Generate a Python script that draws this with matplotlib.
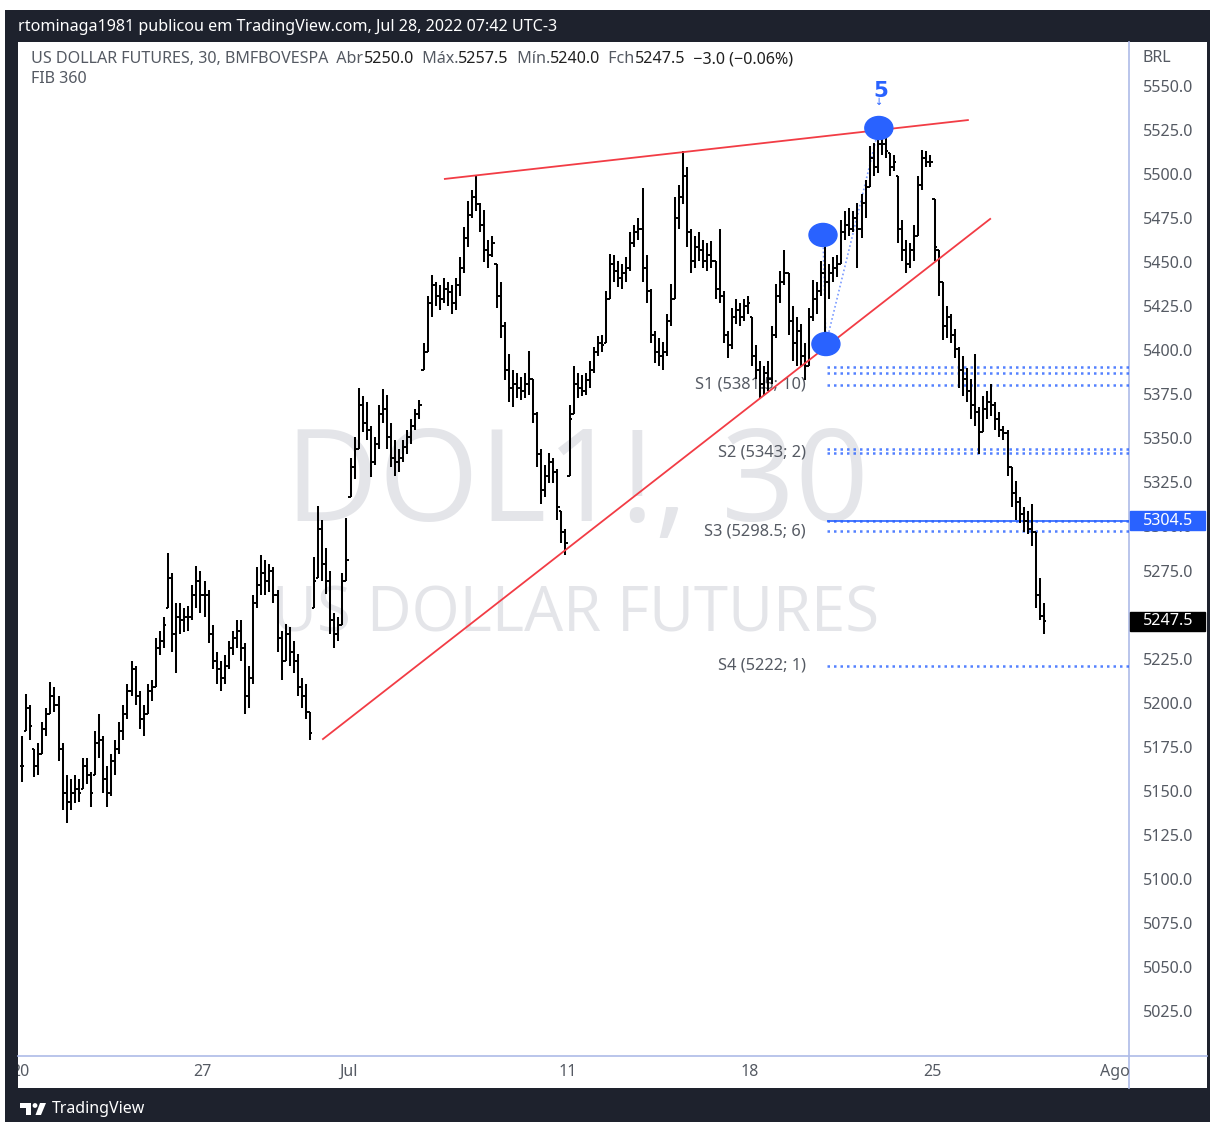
import numpy as np
import matplotlib
matplotlib.use("Agg")
import matplotlib.pyplot as plt
from matplotlib.patches import Rectangle, Ellipse, Polygon, Circle

plt.rcParams["font.family"] = ["Noto Sans", "DejaVu Sans"]

# ---------------- data ----------------
BARS_PER_DAY = 9  # hourly bars per trading day

highs = [
    5182, 5206, 5200, 5175, 5178, 5190, 5198, 5213, 5210,   # Jun 20
    5205, 5178, 5160, 5158, 5160, 5158, 5170, 5170, 5162,   # Jun 21
    5185, 5195, 5182, 5165, 5172, 5180, 5190, 5200, 5212,   # Jun 22
    5225, 5222, 5208, 5200, 5212, 5214, 5238, 5242, 5250,   # Jun 23
    5286, 5275, 5258, 5258, 5255, 5256, 5268, 5279, 5276,   # Jun 24
    5270, 5265, 5245, 5230, 5225, 5228, 5236, 5242, 5248,   # Jun 27
    5248, 5235, 5222, 5262, 5278, 5285, 5282, 5280, 5278,   # Jun 28
    5265, 5242, 5246, 5244, 5236, 5229, 5215, 5212, 5196,   # Jun 29
    5284, 5313, 5305, 5289, 5276, 5252, 5250, 5275, 5306,   # Jun 30
    5340, 5352, 5380, 5375, 5372, 5358, 5352, 5370, 5379,   # Jul 1
    5376, 5360, 5350, 5345, 5350, 5356, 5362, 5368, 5373,   # Jul 4
    5405, 5432, 5444, 5440, 5438, 5442, 5440, 5438, 5442,   # Jul 5
    5454, 5471, 5486, 5492, 5500, 5485, 5481, 5464, 5466,   # Jul 6
    5450, 5440, 5417, 5399, 5390, 5388, 5386, 5388, 5401,   # Jul 7
    5385, 5366, 5345, 5336, 5343, 5340, 5334, 5310, 5300,   # Jul 8
    5370, 5392, 5388, 5387, 5388, 5395, 5403, 5409, 5410,   # Jul 11
    5435, 5456, 5455, 5452, 5450, 5454, 5468, 5472, 5476,   # Jul 12
    5493, 5455, 5436, 5412, 5408, 5406, 5422, 5439, 5488,   # Jul 13
    5495, 5514, 5505, 5470, 5466, 5468, 5464, 5462, 5463,   # Jul 14
    5452, 5470, 5435, 5412, 5425, 5430, 5428, 5430, 5432,   # Jul 15
    5420, 5404, 5395, 5392, 5395, 5415, 5439, 5446, 5458,   # Jul 18
    5445, 5426, 5420, 5416, 5405, 5425, 5441, 5440, 5452,   # Jul 19
    5467, 5450, 5454, 5455, 5475, 5480, 5482, 5480, 5485,   # Jul 20
    5490, 5498, 5517, 5519, 5522, 5527, 5523, 5513, 5512,   # Jul 21
    5500, 5475, 5464, 5462, 5472, 5500, 5515, 5514, 5512,   # Jul 22
    5487, 5458, 5440, 5426, 5422, 5413, 5403, 5398, 5391,   # Jul 25
    5385, 5399, 5369, 5375, 5378, 5382, 5372, 5366, 5358,   # Jul 26
    5356, 5335, 5327, 5318, 5312, 5310, 5314, 5298, 5272,   # Jul 27
    5257.5,                                                 # Jul 28
]
lows = [
    5156, 5185, 5180, 5159, 5160, 5172, 5182, 5195, 5196,
    5168, 5140, 5133, 5140, 5144, 5145, 5152, 5155, 5142,
    5160, 5170, 5150, 5142, 5148, 5160, 5172, 5180, 5192,
    5205, 5200, 5186, 5182, 5195, 5202, 5210, 5228, 5232,
    5255, 5230, 5218, 5240, 5241, 5242, 5248, 5255, 5252,
    5250, 5235, 5220, 5212, 5208, 5212, 5220, 5228, 5232,
    5225, 5195, 5198, 5212, 5255, 5262, 5262, 5264, 5258,
    5230, 5214, 5225, 5222, 5218, 5205, 5198, 5192, 5180,
    5255, 5272, 5270, 5263, 5240, 5232, 5236, 5245, 5270,
    5318, 5328, 5345, 5355, 5350, 5329, 5336, 5345, 5360,
    5345, 5335, 5330, 5332, 5338, 5342, 5348, 5356, 5362,
    5390, 5400, 5420, 5426, 5424, 5428, 5426, 5422, 5424,
    5432, 5445, 5460, 5476, 5480, 5468, 5451, 5448, 5454,
    5425, 5408, 5384, 5372, 5369, 5374, 5373, 5374, 5376,
    5360, 5335, 5314, 5318, 5326, 5326, 5305, 5292, 5285,
    5330, 5365, 5374, 5375, 5376, 5380, 5388, 5398, 5400,
    5405, 5430, 5440, 5437, 5436, 5440, 5446, 5460, 5464,
    5440, 5428, 5405, 5394, 5392, 5390, 5398, 5415, 5430,
    5470, 5484, 5460, 5445, 5448, 5452, 5448, 5446, 5448,
    5430, 5428, 5405, 5397, 5402, 5416, 5415, 5418, 5422,
    5392, 5385, 5374, 5376, 5378, 5382, 5408, 5428, 5438,
    5410, 5395, 5392, 5392, 5384, 5392, 5418, 5422, 5432,
    5405, 5430, 5440, 5443, 5450, 5464, 5466, 5468, 5448,
    5465, 5476, 5494, 5500, 5502, 5512, 5510, 5500, 5503,
    5462, 5452, 5445, 5448, 5452, 5466, 5492, 5505, 5505,
    5452, 5432, 5407, 5408, 5405, 5397, 5380, 5375, 5372,
    5362, 5358, 5342, 5355, 5362, 5364, 5356, 5352, 5350,
    5330, 5312, 5305, 5303, 5298, 5297, 5290, 5255, 5248,
    5240,
]
closes = [
    5165, 5198, 5188, 5165, 5172, 5186, 5195, 5205, 5200,
    5175, 5150, 5145, 5150, 5152, 5150, 5165, 5160, 5150,
    5178, 5180, 5158, 5150, 5168, 5175, 5185, 5195, 5208,
    5220, 5205, 5192, 5195, 5208, 5210, 5232, 5236, 5245,
    5272, 5240, 5250, 5248, 5250, 5250, 5262, 5270, 5262,
    5262, 5240, 5225, 5220, 5215, 5222, 5232, 5238, 5242,
    5232, 5205, 5215, 5258, 5268, 5275, 5270, 5276, 5262,
    5238, 5225, 5240, 5230, 5225, 5210, 5205, 5196, 5184,
    5270, 5300, 5280, 5270, 5248, 5240, 5245, 5270, 5282,
    5335, 5345, 5370, 5360, 5356, 5338, 5348, 5365, 5368,
    5352, 5340, 5338, 5340, 5346, 5352, 5358, 5365, 5370,
    5400, 5428, 5438, 5432, 5430, 5436, 5434, 5428, 5438,
    5448, 5465, 5478, 5488, 5484, 5472, 5458, 5455, 5462,
    5432, 5415, 5390, 5380, 5382, 5380, 5378, 5382, 5385,
    5365, 5342, 5322, 5330, 5338, 5332, 5312, 5298, 5292,
    5362, 5382, 5380, 5378, 5384, 5390, 5400, 5405, 5404,
    5430, 5450, 5446, 5442, 5445, 5448, 5462, 5468, 5470,
    5448, 5435, 5410, 5400, 5398, 5400, 5418, 5430, 5476,
    5488, 5500, 5468, 5452, 5460, 5458, 5452, 5455, 5452,
    5436, 5432, 5410, 5404, 5420, 5424, 5420, 5426, 5428,
    5398, 5390, 5382, 5388, 5385, 5410, 5432, 5440, 5445,
    5418, 5405, 5412, 5398, 5392, 5420, 5430, 5435, 5445,
    5440, 5445, 5448, 5450, 5468, 5472, 5470, 5476, 5470,
    5485, 5494, 5510, 5505, 5518, 5518, 5514, 5505, 5508,
    5470, 5458, 5450, 5458, 5466, 5495, 5510, 5508, 5508,
    5460, 5440, 5415, 5420, 5410, 5402, 5390, 5385, 5378,
    5370, 5366, 5355, 5368, 5372, 5370, 5362, 5356, 5354,
    5335, 5320, 5315, 5308, 5304, 5300, 5298, 5262, 5250.5,
    5247.5,
]

day_tick_pos = [0, 5, 9, 15, 20, 25, 30]
day_tick_labels = ["20", "27", "Jul", "11", "18", "25", "Ago"]
price_ticks = np.arange(5025, 5551, 25)

upper_trend_x = [11.64, 25.97]
upper_trend_y = [5498.4, 5531.8]
lower_trend_x = [8.30, 26.58]
lower_trend_y = [5180.5, 5475.7]

wave_x = [22.00, 22.08, 23.53]
wave_y = [5466.6, 5404.7, 5527.3]
wave_label = "5"

pivot_lines = [5391.5, 5388.5, 5381.5, 5345.0, 5343.0, 5304.5, 5298.5, 5222.0]
pivot_names = ["S1 (5381.5; 10)", "S2 (5343; 2)", "S3 (5298.5; 6)", "S4 (5222; 1)"]
pivot_label_levels = [5381.5, 5343.0, 5298.5, 5222.0]
pivot_start_day = 22.1
pivot_label_day = 21.53
user_hline = 5304.5
last_price = 5247.5

symbol = "US DOLLAR FUTURES, 30, BMFBOVESPA"
last_open, last_high, last_low, last_close = 5250.0, 5257.5, 5240.0, 5247.5
last_change, last_change_pct = -3.0, -0.06
indicator_name = "FIB 360"
title = "rtominaga1981 publicou em TradingView.com, Jul 28, 2022 07:42 UTC-3"

# ---------------- figure ----------------
W, H = 1210, 1122
fig = plt.figure(figsize=(W / 100, H / 100), dpi=100)
fig.patch.set_facecolor("white")

DARK = "#1e222d"
GRAY = "#555a63"
BLUE = "#2962ff"
AXLINE = "#aebbe8"
UI = 11.6

bg = fig.add_axes([0, 0, 1, 1], zorder=-5)
bg.set_xlim(0, W)
bg.set_ylim(H, 0)
bg.axis("off")
bg.add_patch(Rectangle((5, 10), W - 5, H - 10, color=DARK, lw=0))
bg.add_patch(Rectangle((18, 42), 1207 - 18, 1088 - 42, color="white", lw=0))
bg.plot([1129, 1129], [42, 1088], color=AXLINE, lw=1.2)
bg.plot([18, 1207], [1056, 1056], color=AXLINE, lw=1.2)

PL, PR, PT, PB = 18, 1129, 42, 1056
PX_PER_DAY = 36.5
PX_PER_PT = 1.762
ax = fig.add_axes([PL / W, 1 - PB / H, (PR - PL) / W, (PB - PT) / H])
ax.set_facecolor("none")
for s in ax.spines.values():
    s.set_visible(False)
ax.set_xticks([])
ax.set_yticks([])
ax.set_xlim((PL - 20) / PX_PER_DAY, (PR - 20) / PX_PER_DAY)
ax.set_ylim(5550 - (PB - 88) / PX_PER_PT, 5550 + (88 - PT) / PX_PER_PT)

# watermark
ax.text(0.503, 0.56, "DOL1!, 30", transform=ax.transAxes, ha="center", va="center",
        fontsize=93, color="#e4e5e9", family="Open Sans", zorder=0.5)
ax.text(0.502, 0.435, "US DOLLAR FUTURES", transform=ax.transAxes, ha="center", va="center",
        fontsize=44.5, color="#e4e5e9", family="Open Sans", zorder=0.5)

# OHLC bars
n = len(highs)
xs = np.array([i // BARS_PER_DAY + (i % BARS_PER_DAY + 0.5) / BARS_PER_DAY for i in range(n)])
hi = np.array(highs, float)
lo = np.array(lows, float)
cl = np.array(closes, float)
op = np.clip(np.concatenate([[cl[0]], cl[:-1]]), lo, hi)
tick = 2.2 / PX_PER_DAY
ax.vlines(xs, lo, hi, color="black", lw=1.45, zorder=3)
ax.hlines(op, xs - tick, xs, color="black", lw=1.4, zorder=3)
ax.hlines(cl, xs, xs + tick, color="black", lw=1.4, zorder=3)

# trend lines
ax.plot(upper_trend_x, upper_trend_y, color="#f23c45", lw=1.3, zorder=4)
ax.plot(lower_trend_x, lower_trend_y, color="#f23c45", lw=1.3, zorder=4)

# pivots
xmax = ax.get_xlim()[1]
for lv in pivot_lines:
    ax.hlines(lv, pivot_start_day, xmax, color=BLUE, lw=1.8, alpha=0.8,
              linestyles=[(0, (1.0, 1.6))], zorder=2)
ax.hlines(user_hline, pivot_start_day, xmax, color=BLUE, lw=1.2, zorder=2)
for name, lv in zip(pivot_names, pivot_label_levels):
    ax.text(pivot_label_day, lv, name, ha="right", va="center", fontsize=11.8,
            color=GRAY, zorder=2.5)

# wave points
ax.plot(wave_x[:2], wave_y[:2], color="#7c9cff", lw=1.2, ls=(0, (1, 1.5)), zorder=2.6)
ax.plot(wave_x[1:], wave_y[1:], color="#7c9cff", lw=1.2, ls=(0, (1, 1.5)), zorder=2.6)
for wx, wy in zip(wave_x, wave_y):
    ax.add_patch(Ellipse((wx, wy), 28 / PX_PER_DAY, 23 / PX_PER_PT, color=BLUE, zorder=5))
ax.annotate(wave_label, xy=(wave_x[2], wave_y[2]), xytext=(2, 37), textcoords="offset pixels",
            ha="center", va="center", fontsize=15.5, color=BLUE, fontweight="bold",
            family="DejaVu Sans", zorder=6)
ax.annotate("\u2193", xy=(wave_x[2], wave_y[2]), xytext=(0, 26), textcoords="offset pixels",
            ha="center", va="center", fontsize=7, color=BLUE, zorder=6, family="DejaVu Sans")

# time scale
axt = fig.add_axes([PL / W, 1 - 1088 / H, (PR - PL) / W, (1088 - PB) / H])
axt.set_xlim(ax.get_xlim())
axt.set_ylim(0, 1)
axt.axis("off")
for pos, lab in zip(day_tick_pos, day_tick_labels):
    axt.text(pos, 0.5, lab, ha="center", va="center", fontsize=11.5, color=GRAY,
             clip_on=True)

# price scale
axp = fig.add_axes([PR / W, 1 - PB / H, (1207 - PR) / W, (PB - PT) / H])
axp.set_ylim(ax.get_ylim())
axp.set_xlim(0, 78)
axp.axis("off")
for p in price_ticks:
    if abs(p - last_price) < 4:
        continue  # hidden behind the last-price label
    axp.text(14, p, f"{p:.1f}", ha="left", va="center", fontsize=UI, color=GRAY)
axp.text(14, 5567, "BRL", ha="left", va="center", fontsize=UI, color=GRAY)
for lv, col in [(user_hline, BLUE), (last_price, "black")]:
    axp.add_patch(Rectangle((1, lv - 9.5 / PX_PER_PT), 75, 19 / PX_PER_PT, color=col, zorder=3))
    axp.text(14, lv, f"{lv:.1f}", ha="left", va="center", fontsize=UI, color="white",
             fontweight="semibold", zorder=4)

# header / title / footer
bg.text(18, 27, title, ha="left", va="center", color="white", fontsize=11.6, fontweight="semibold")
parts = [
    (symbol, GRAY), ("  Abr", GRAY), (f"{last_open:.1f}", "#202020"),
    ("  Máx.", GRAY), (f"{last_high:.1f}", "#202020"),
    ("  Mín.", GRAY), (f"{last_low:.1f}", "#202020"),
    ("  Fch", GRAY), (f"{last_close:.1f}", "#202020"),
    (f"  \u2212{abs(last_change):.1f} (\u2212{abs(last_change_pct):.2f}%)", "#202020"),
]
t = bg.text(31, 59, parts[0][0], ha="left", va="center", color=parts[0][1], fontsize=UI)
for txt, col in parts[1:]:
    t = bg.annotate(txt, xy=(1, 0), xycoords=t, ha="left", va="bottom", color=col, fontsize=UI)
bg.text(31, 79, indicator_name, ha="left", va="center", color=GRAY, fontsize=UI)

# TradingView footer logo
bg.add_patch(Polygon([(20, 1103), (31, 1103), (31, 1115), (26, 1115), (26, 1108), (20, 1108)],
                     closed=True, color="white", lw=0))
bg.add_patch(Circle((35, 1105.5), 2.4, color="white", lw=0))
bg.add_patch(Polygon([(40, 1103), (46, 1103), (41, 1115), (35.5, 1115)], closed=True,
                     color="white", lw=0))
bg.text(52, 1109, "TradingView", ha="left", va="center", color="white", fontsize=11.5,
        fontweight="semibold")

fig.savefig("out.png", dpi=100, facecolor=fig.get_facecolor())
